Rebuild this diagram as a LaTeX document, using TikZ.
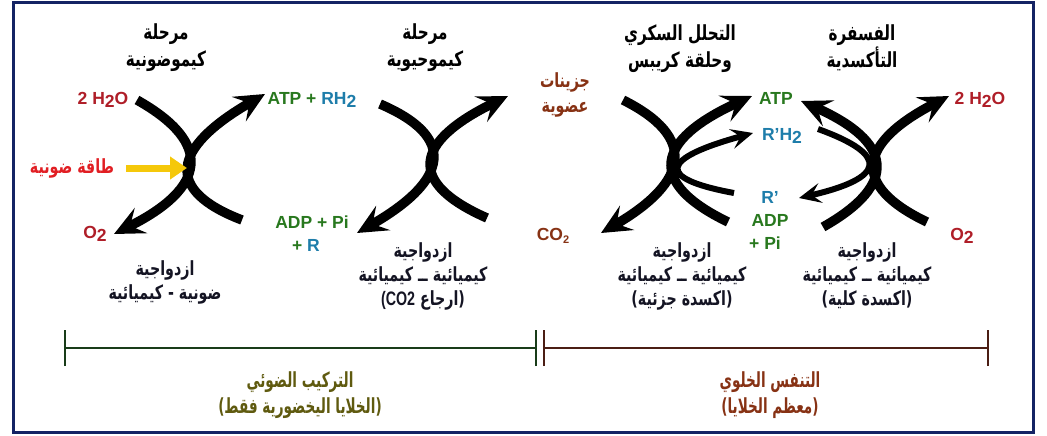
\documentclass[tikz,border=0pt]{standalone}
\usepackage{fontspec}
\usepackage{graphicx}
\setmainfont{Liberation Sans}
\newfontfamily\arabicfont[Script=Arabic]{DejaVu Sans}
\TeXXeTstate=1
\usetikzlibrary{arrows.meta,calc}
\definecolor{navy}{RGB}{20,35,100}
\definecolor{dred}{RGB}{175,30,40}
\definecolor{lred}{RGB}{225,30,35}
\definecolor{dgreen}{RGB}{40,120,30}
\definecolor{tblue}{RGB}{30,125,170}
\definecolor{brownt}{RGB}{135,50,20}
\definecolor{sunyel}{RGB}{245,200,10}
\definecolor{olivet}{RGB}{95,90,15}
\definecolor{lgreen}{RGB}{25,60,25}
\definecolor{lbrown}{RGB}{75,30,20}
\definecolor{inkt}{RGB}{20,20,35}
\newcommand\AR[1]{\scalebox{0.95}[1.3]{\beginR #1\endR}}
\newcommand\ARn[1]{\scalebox{0.85}[1.3]{\beginR #1\endR}}
\newcommand\dn[1]{\raisebox{-0.35ex}{#1}}
% quadratic-like arc: style, start, through-point, end
\newcommand\xarc[4]{%
  \coordinate (qq) at ($2*(#3)-0.5*(#2)-0.5*(#4)$);
  \draw[#1] (#2) .. controls ($(#2)!0.6667!(qq)$) and ($(#4)!0.6667!(qq)$) .. (#4);}
\begin{document}
\begin{tikzpicture}[x=1pt,y=-1pt,
  bigarc/.style={line width=9.5pt, line cap=butt, -{Stealth[length=30pt,width=28pt,inset=12pt]}},
  smallarc/.style={line width=6pt, line cap=butt, -{Stealth[length=22pt,width=20pt,inset=9pt]}},
  lat/.style={font=\fontsize{17.5}{20}\selectfont\bfseries, inner sep=0pt, align=center},
  artitle/.style={font=\arabicfont\bfseries\fontsize{16}{27}\selectfont, inner sep=0pt, align=center, text=black},
  arbot/.style={font=\arabicfont\bfseries\fontsize{15}{24}\selectfont, inner sep=0pt, align=center, text=inkt},
  arfoot/.style={font=\arabicfont\bfseries\fontsize{16}{26}\selectfont, inner sep=0pt, align=center},
  bar/.style={line width=2.5pt}
]
\useasboundingbox (0,0) rectangle (1047,436);
\draw[navy, line width=3pt] (13,3) rectangle (1033,432);

% ---------- titles
\node[artitle] (t1) at (166,48) {\AR{مرحلة}\\\AR{كيموضونية}};
\node[artitle] (t2) at (425,48) {\AR{مرحلة}\\\AR{كيموحيوية}};
\node[artitle] (t3) at (680,49) {\AR{التحلل السكري}\\\AR{وحلقة كريبس}};
\node[artitle] (t4) at (862,48) {\AR{الفسفرة}\\\AR{التأكسدية}};

% ---------- cross 1
\coordinate (c1tl) at (137,100);
\coordinate (c1bl) at (114,234);
\coordinate (c1br) at (242,220);
\coordinate (c1tr) at (265,94);
\coordinate (c1c) at (189,166);
\xarc{bigarc}{c1tl}{c1c}{c1bl}
\xarc{bigarc}{c1br}{c1c}{c1tr}
\node[lat, text=dred] (h2oa) at (103,100) {2 H\dn{2}O};
\node[lat, text=dred] (o2a) at (95,234) {O\dn{2}};
\node[lat] (atpa) at (312,100) {\textcolor{dgreen}{ATP +} \textcolor{tblue}{RH\dn{2}}};
\node[lat] (adpa) at (312,222) {\textcolor{dgreen}{ADP + Pi}};
\node[lat] (ra) at (306,245) {\textcolor{dgreen}{+} \textcolor{tblue}{R}};
\node[font=\arabicfont\bfseries\fontsize{15}{18}\selectfont, text=lred, inner sep=0pt] (light) at (72,168) {\AR{طاقة ضونية}};
\coordinate (lightend) at (187,168);
\draw[sunyel, line width=7pt, -{Triangle[length=17pt,width=22pt]}] (light.east) ++(12,0) -- (lightend);
\node[arbot] (b1) at (165,282) {\AR{ازدواجية}\\\AR{ضونية - كيميائية}};

% ---------- cross 2
\coordinate (c2tl) at (380,104);
\coordinate (c2bl) at (357,233);
\coordinate (c2br) at (487,218);
\coordinate (c2tr) at (508,96);
\coordinate (c2c) at (432,161);
\xarc{bigarc}{c2tl}{c2c}{c2bl}
\xarc{bigarc}{c2br}{c2c}{c2tr}
\node[arbot] (b2) at (423,276) {\AR{ازدواجية}\\\AR{كيميائية ــ كيميائية}\\\AR{(ارجاع \beginL{\fontspec{Liberation Sans}\bfseries(CO2}\endL}};

% ---------- cross 3
\node[font=\arabicfont\bfseries\fontsize{15}{25}\selectfont, text=brownt, inner sep=0pt, align=center] (org) at (565,95) {\AR{جزينات}\\\AR{عضوية}};
\node[lat, text=brownt] (co2) at (553,236) {CO\raisebox{-0.4ex}{\fontsize{11}{12}\selectfont 2}};
\coordinate (c3tl) at (623,100);
\coordinate (c3bl) at (601,233);
\coordinate (c3adp) at (728,222);
\coordinate (c3atp) at (752,96);
\coordinate (c3rp) at (734,193);
\coordinate (c3rh) at (753,133);
\coordinate (c3c) at (673,161);
\coordinate (c3b) at (679,167);
\xarc{bigarc}{c3tl}{c3c}{c3bl}
\xarc{bigarc}{c3adp}{c3c}{c3atp}
\xarc{smallarc}{c3rp}{c3b}{c3rh}
\node[lat, text=dgreen] (atpb) at (776,98) {ATP};
\node[lat, text=tblue] (rh2b) at (782,136) {R'H\dn{2}};
\node[lat, text=tblue] (rpb) at (770,197) {R'};
\node[lat, text=dgreen] (adpb) at (770,220) {ADP};
\node[lat, text=dgreen] (pib) at (765,243) {+ Pi};
\node[arbot] (b3) at (682,276) {\AR{ازدواجية}\\\AR{كيميائية ــ كيميائية}\\\AR{(اكسدة جزئية)}};

% ---------- cross 4
\coordinate (c4bl) at (823,227);
\coordinate (c4atp) at (801,101);
\coordinate (c4rh) at (818,129);
\coordinate (c4rp) at (799,198);
\coordinate (c4br) at (927,222);
\coordinate (c4tr) at (949,96);
\coordinate (c4c) at (875,163);
\coordinate (c4b) at (868,166);
\xarc{bigarc}{c4bl}{c4c}{c4atp}
\xarc{bigarc}{c4br}{c4c}{c4tr}
\xarc{smallarc}{c4rh}{c4b}{c4rp}
\node[lat, text=dred] (h2ob) at (980,100) {2 H\dn{2}O};
\node[lat, text=dred] (o2b) at (962,236) {O\dn{2}};
\node[arbot] (b4) at (867,276) {\AR{ازدواجية}\\\AR{كيميائية ــ كيميائية}\\\AR{(اكسدة كلية)}};

% ---------- bottom brackets
\coordinate (pa) at (65,348);
\coordinate (pb) at (536,348);
\coordinate (ra1) at (544,348);
\coordinate (rb1) at (988,348);
\draw[lgreen, bar] (pa) -- (pb);
\draw[lgreen, bar] ([yshift=-18pt]pa) -- ([yshift=18pt]pa);
\draw[lgreen, bar] ([yshift=-18pt]pb) -- ([yshift=18pt]pb);
\draw[lbrown, bar] (ra1) -- (rb1);
\draw[lbrown, bar] ([yshift=-18pt]ra1) -- ([yshift=18pt]ra1);
\draw[lbrown, bar] ([yshift=-18pt]rb1) -- ([yshift=18pt]rb1);
\node[arfoot, text=olivet] (ps) at (300,395) {\ARn{التركيب الضوئي}\\\ARn{(الخلايا اليخضورية فقط)}};
\node[arfoot, text=brownt] (resp) at (770,395) {\ARn{التنفس الخلوي}\\\ARn{(معظم الخلايا)}};
\end{tikzpicture}
\end{document}
